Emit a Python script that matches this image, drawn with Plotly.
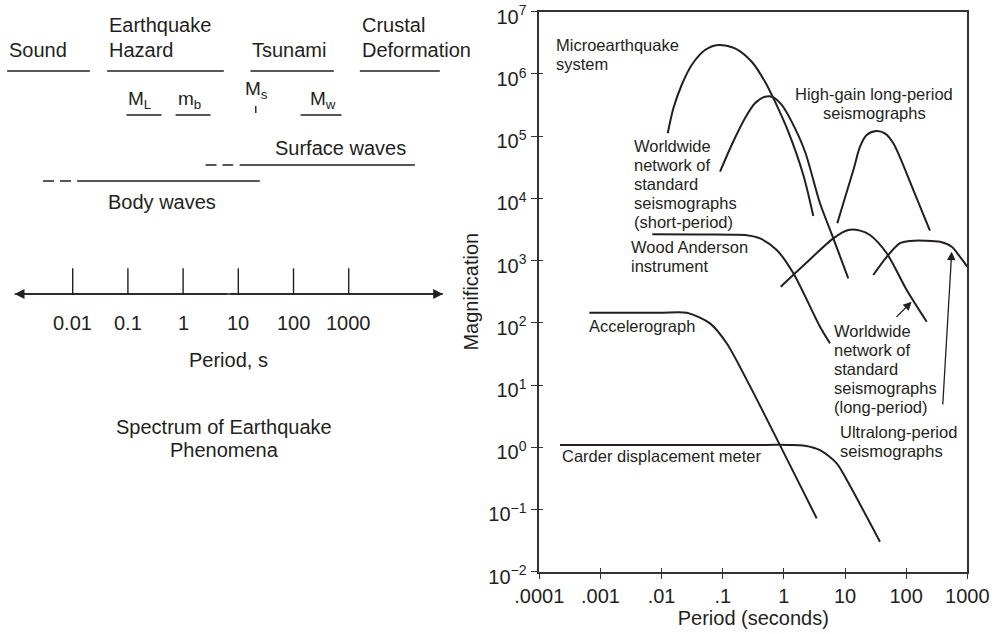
import numpy as np
import plotly.graph_objects as go

# ---------------- Right panel data: magnification vs period ----------------
micro_T = [0.0126, 0.0156, 0.0213, 0.0311, 0.0513, 0.0847, 0.159, 0.298, 0.492, 0.717, 1.18, 2.08, 3.03]
micro_M = [1.11e5, 2.80e5, 6.64e5, 1.39e6, 2.42e6, 2.92e6, 2.58e6, 1.57e6, 7.50e5, 3.58e5, 1.18e5, 2.37e4, 5.2e3]

wwsp_T = [0.0904, 0.140, 0.231, 0.337, 0.492, 0.672, 0.922, 1.34, 2.22, 3.90, 6.44, 11.3]
wwsp_M = [2.69e4, 7.21e4, 1.94e5, 3.37e5, 4.31e5, 4.21e5, 3.17e5, 1.71e5, 5.62e4, 8.34e3, 2.28e3, 519]

hg_T = [7.48, 13.7, 17.6, 22.6, 32.1, 44.9, 61.7, 131, 245]
hg_M = [3970, 2.86e4, 6.77e4, 1.04e5, 1.21e5, 1.11e5, 7.67e4, 1.36e4, 3020]

wa_T = [0.00705, 0.0425, 0.15, 0.247, 0.407, 0.764, 1.43, 3.90, 5.68]
wa_M = [2640, 2620, 2600, 2560, 2280, 1480, 625, 86.5, 46.9]

wwlp_T = [0.887, 2.36, 6.44, 11.3, 17.6, 25.6, 48.1, 102, 217]
wwlp_M = [380, 931, 2280, 3100, 3030, 2580, 1310, 337, 104]

ul_T = [29.0, 48.1, 79.4, 116, 203, 358, 556, 760, 1000]
ul_M = [586, 1150, 1900, 2070, 2090, 2010, 1670, 1150, 798]

acc_T = [6.58e-4, 0.00942, 0.0258, 0.0619, 0.116, 0.247, 3.44]
acc_M = [145, 145, 145, 98, 46.9, 12.1, 0.072]

carder_T = [2.18e-4, 0.01, 0.3, 1.2, 2.2, 3.90, 7.31, 10.7, 37.3]
carder_M = [1.09, 1.09, 1.09, 1.09, 1.06, 0.90, 0.552, 0.298, 0.0303]

x_tickvals = [1e-4, 1e-3, 1e-2, 1e-1, 1, 10, 100, 1000]
x_ticktext = [".0001", ".001", ".01", ".1", "1", "10", "100", "1000"]
y_exponents = [-2, -1, 0, 1, 2, 3, 4, 5, 6, 7]

# Labels: (lines, anchor period, anchor magnification of first line, xanchor)
curve_labels = [
    (["Microearthquake", "system"], 1.74e-4, 2.92e6, "left"),
    (["High-gain long-period", "seismographs"], 30.1, 4.75e5, "center"),
    (["Worldwide", "network of", "standard", "seismographs", "(short-period)"], 3.24e-3, 7.0e4, "left"),
    (["Wood Anderson", "instrument"], 2.93e-3, 1.67e3, "left"),
    (["Accelerograph"], 6.1e-4, 88.9, "left"),
    (["Carder displacement meter"], 2.18e-4, 0.723, "left"),
    (["Worldwide", "network of", "standard", "seismographs", "(long-period)"], 6.2, 74.6, "left"),
    (["Ultralong-period", "seismographs"], 7.6, 1.78, "left"),
]
# arrows: (head period, head magnification, tail period, tail magnification)
pointer_arrows = [
    (123, 218, 65.8, 118),
    (556, 1390, 396, 4.6),
]

# ---------------- Left panel data: spectrum of earthquake phenomena ----------------
band_names = ["Sound", "Earthquake|Hazard", "Tsunami", "Crustal|Deformation"]
band_start = [6.5e-4, 0.042, 16.6, 1589]
band_end = [0.0204, 5.46, 537, 44700]

mag_names = ["M<sub>L</sub>", "m<sub>b</sub>", "M<sub>w</sub>"]
mag_start = [0.094, 0.73, 134]
mag_end = [0.406, 3.14, 741]
mag_label_at = [0.094, 0.73, 180]
ms_name = "M<sub>s</sub>"
ms_period = 20.7
ms_label_at = 12.2

surface_dashed = [2.55, 8.05]
surface_solid = [10.6, 15800]
surface_label_at = 43.0
body_dashed = [0.0029, 0.0095]
body_solid = [0.012, 24.5]
body_label_at = 0.040

scale_ticks = [0.01, 0.1, 1, 10, 100, 1000]
scale_labels = ["0.01", "0.1", "1", "10", "100", "1000"]
scale_ends = [8.9e-4, 5.1e4]
scale_center = 6.7

# ---------------- style / layout constants ----------------
INK = "#231f20"
FRAME = "#333333"
FONT = "Liberation Sans, Arial, Helvetica, sans-serif"
W, H = 995, 634
PX0, PX1 = 539.3, 967.3       # main plot frame (pixels)
PY0, PY1 = 11.7, 571.7
LEFT_W = 480                  # width of left diagram
ROW_BAND, ROW_MAG, ROW_SURF, ROW_BODY = 71, 115, 165, 181
ROW_TOPTXT1, ROW_TOPTXT2 = 25, 50
AXIS_ROW, TICK_TOP, TICKLAB_ROW = 294, 268.3, 323.3
L_LOG0, L_LOG1 = -3.317, 5.378
LINE_STEP = 0.305             # decades per text line in main panel

fig = go.Figure()

def curve(T, M):
    fig.add_trace(go.Scatter(x=T, y=M, mode="lines",
                             line=dict(color=INK, width=2, shape="spline", smoothing=0.8),
                             hoverinfo="skip", showlegend=False))

for T, M in [(micro_T, micro_M), (wwsp_T, wwsp_M), (hg_T, hg_M), (wa_T, wa_M),
             (wwlp_T, wwlp_M), (ul_T, ul_M), (acc_T, acc_M), (carder_T, carder_M)]:
    curve(T, M)

# overlay axes that only add the inner half of the crossing tick marks
fig.add_trace(go.Scatter(x=[None], y=[None], xaxis="x3", yaxis="y", mode="lines",
                         hoverinfo="skip", showlegend=False))
fig.add_trace(go.Scatter(x=[None], y=[None], xaxis="x", yaxis="y3", mode="lines",
                         hoverinfo="skip", showlegend=False))

annotations = []
for lines, tx, my, xa in curve_labels:
    for i, s in enumerate(lines):
        annotations.append(dict(x=np.log10(tx), y=np.log10(my) - i * LINE_STEP,
                                xref="x", yref="y", text=s, showarrow=False,
                                xanchor=xa, yanchor="middle",
                                font=dict(size=16.5, color=INK, family=FONT)))
for hx, hy, tx, ty in pointer_arrows:
    annotations.append(dict(x=np.log10(hx), y=np.log10(hy), ax=np.log10(tx), ay=np.log10(ty),
                            xref="x", yref="y", axref="x", ayref="y", text="",
                            showarrow=True, arrowhead=2, arrowsize=1.3, arrowwidth=1.3,
                            arrowcolor=INK, standoff=0))

# ---------------- left panel ----------------
def seg_trace(starts, ends, rows, dash="solid", width=1.6):
    xs, ys = [], []
    for a, b, r in zip(starts, ends, rows):
        xs += [a, b, None]
        ys += [r, r, None]
    fig.add_trace(go.Scatter(x=xs, y=ys, mode="lines", xaxis="x2", yaxis="y2",
                             line=dict(color=INK, width=width, dash=dash),
                             hoverinfo="skip", showlegend=False))

seg_trace(band_start, band_end, [ROW_BAND] * len(band_start))
seg_trace(mag_start, mag_end, [ROW_MAG] * len(mag_start))
seg_trace([surface_solid[0], body_solid[0]], [surface_solid[1], body_solid[1]], [ROW_SURF, ROW_BODY])
seg_trace([surface_dashed[0], body_dashed[0]], [surface_dashed[1], body_dashed[1]],
          [ROW_SURF, ROW_BODY], dash="11px,6px")
# period scale line
seg_trace([scale_ends[0]], [scale_ends[1]], [AXIS_ROW], width=1.4)

# Ms marker and scale ticks (vertical strokes)
vx, vy = [ms_period, ms_period, None], [106, 113, None]
for t in scale_ticks:
    vx += [t, t, None]
    vy += [TICK_TOP, AXIS_ROW, None]
fig.add_trace(go.Scatter(x=vx, y=vy, mode="lines", xaxis="x2", yaxis="y2",
                         line=dict(color=INK, width=1.4), hoverinfo="skip", showlegend=False))

def ltext(s, t, row, xa="left", size=20):
    annotations.append(dict(x=np.log10(t), y=row, xref="x2", yref="y2", text=s,
                            showarrow=False, xanchor=xa, yanchor="middle",
                            font=dict(size=size, color=INK, family=FONT)))

for name, t0 in zip(band_names, band_start):
    parts = name.split("|")
    if len(parts) == 1:
        ltext(parts[0], t0, ROW_TOPTXT2)
    else:
        ltext(parts[0], t0, ROW_TOPTXT1)
        ltext(parts[1], t0, ROW_TOPTXT2)
for name, t in zip(mag_names, mag_label_at):
    ltext(name, t, 100, size=19)
ltext(ms_name, ms_label_at, 90, size=19)
ltext("Surface waves", surface_label_at, 148.3)
ltext("Body waves", body_label_at, 201.7)
for t, s in zip(scale_ticks, scale_labels):
    ltext(s, t, TICKLAB_ROW, xa="center")
ltext("Period, s", scale_center, 360, xa="center")
ltext("Spectrum of Earthquake", 5.5, 426.7, xa="center")
ltext("Phenomena", 5.6, 450, xa="center")

for end in scale_ends:
    annotations.append(dict(x=np.log10(end), y=AXIS_ROW, ax=np.log10(scale_center), ay=AXIS_ROW,
                            xref="x2", yref="y2", axref="x2", ayref="y2", text="",
                            showarrow=True, arrowhead=2, arrowsize=1.4, arrowwidth=1.4,
                            arrowcolor=INK, standoff=0))

axis_font = dict(size=20, color=INK, family=FONT)
x_dom = [PX0 / W, PX1 / W]
y_dom = [(H - PY1) / H, (H - PY0) / H]
y_tickvals = [10.0 ** e for e in y_exponents]
fig.update_layout(
    width=W, height=H,
    margin=dict(l=0, r=0, t=0, b=0),
    paper_bgcolor="white", plot_bgcolor="white",
    font=dict(family=FONT, color=INK),
    showlegend=False,
    annotations=annotations,
    xaxis=dict(type="log", range=[-4, 3], domain=x_dom, anchor="y",
               tickvals=x_tickvals, ticktext=x_ticktext, tickfont=axis_font,
               ticks="outside", ticklen=5, tickwidth=1.3, tickcolor=FRAME,
               ticklabeloverflow="allow",
               showline=True, linecolor=FRAME, linewidth=1.6, mirror=True,
               showgrid=False, zeroline=False, automargin=False,
               title=dict(text="Period (seconds)", font=axis_font, standoff=4)),
    yaxis=dict(type="log", range=[-2, 7], domain=y_dom, anchor="x",
               tickvals=y_tickvals,
               ticktext=["10<sup>%s</sup>" % (str(e).replace("-", "\u2212")) for e in y_exponents],
               tickfont=axis_font, ticklabelshift=5,
               ticks="outside", ticklen=7, tickwidth=1.3, tickcolor=FRAME,
               ticklabeloverflow="allow",
               showline=True, linecolor=FRAME, linewidth=1.6, mirror=True,
               showgrid=False, zeroline=False, automargin=False,
               title=dict(text="Magnification", font=axis_font, standoff=4)),
    xaxis3=dict(type="log", range=[-4, 3], domain=x_dom, overlaying="x", anchor="y",
                side="bottom", tickvals=x_tickvals, showticklabels=False,
                ticks="inside", ticklen=4, tickwidth=1.3, tickcolor=FRAME,
                showline=False, showgrid=False, zeroline=False, automargin=False),
    yaxis3=dict(type="log", range=[-2, 7], domain=y_dom, overlaying="y", anchor="x",
                side="left", tickvals=y_tickvals, showticklabels=False,
                ticks="inside", ticklen=4, tickwidth=1.3, tickcolor=FRAME,
                showline=False, showgrid=False, zeroline=False, automargin=False),
    xaxis2=dict(type="log", range=[L_LOG0, L_LOG1], domain=[0, LEFT_W / W], anchor="y2",
                visible=False, fixedrange=True),
    yaxis2=dict(range=[H, 0], domain=[0, 1], anchor="x2", visible=False, fixedrange=True),
)

fig.write_html("out.html")
